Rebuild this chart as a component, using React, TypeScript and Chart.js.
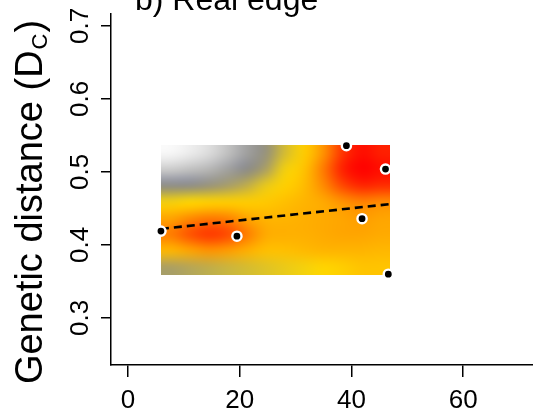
import React, { useEffect, useRef } from 'react';
import { Chart, registerables } from 'chart.js';
Chart.register(...registerables);

const TITLE = 'b) Real edge';
const Y_LABEL_MAIN = 'Genetic distance (D';
const Y_LABEL_SUB = 'C';
const Y_LABEL_END = ')';
const X_TICKS = [0, 20, 40, 60];
const Y_TICKS = [0.3, 0.4, 0.5, 0.6, 0.7];
const X_RANGE = [-3.04, 72.5];
const Y_RANGE = [0.2356, 0.7164];
const POINT_X = [5.9, 19.5, 39.1, 46.1, 41.9, 46.6];
const POINT_Y = [0.419, 0.412, 0.536, 0.504, 0.436, 0.36];
const TREND_X = [5.9, 46.9];
const TREND_Y = [0.422, 0.456];
const HEAT_X = [5.9, 46.9];
const HEAT_Y = [0.537, 0.359];
// rows top -> bottom, columns left -> right
const HEAT_ROW_0 = [0.0, 0.02, 0.05, 0.1, 0.16, 0.22, 0.34, 0.46, 0.66, 0.88, 0.97, 0.93];
const HEAT_ROW_1 = [0.08, 0.1, 0.12, 0.16, 0.2, 0.26, 0.4, 0.5, 0.72, 0.93, 1.0, 0.97];
const HEAT_ROW_2 = [0.2, 0.2, 0.22, 0.25, 0.3, 0.38, 0.45, 0.53, 0.68, 0.84, 0.92, 0.9];
const HEAT_ROW_3 = [0.4, 0.42, 0.44, 0.45, 0.46, 0.48, 0.52, 0.56, 0.6, 0.66, 0.7, 0.68];
const HEAT_ROW_4 = [0.62, 0.68, 0.72, 0.7, 0.62, 0.56, 0.56, 0.58, 0.6, 0.62, 0.64, 0.62];
const HEAT_ROW_5 = [0.72, 0.82, 0.88, 0.84, 0.72, 0.6, 0.58, 0.58, 0.6, 0.62, 0.62, 0.6];
const HEAT_ROW_6 = [0.55, 0.62, 0.66, 0.64, 0.58, 0.52, 0.52, 0.54, 0.56, 0.56, 0.56, 0.55];
const HEAT_ROW_7 = [0.26, 0.28, 0.3, 0.32, 0.34, 0.36, 0.38, 0.4, 0.43, 0.46, 0.5, 0.5];
const HEAT_ROWS = [HEAT_ROW_0, HEAT_ROW_1, HEAT_ROW_2, HEAT_ROW_3, HEAT_ROW_4, HEAT_ROW_5, HEAT_ROW_6, HEAT_ROW_7];
const COLOR_STOPS: [number, number[]][] = [
  [0, [248, 248, 248]],
  [0.2, [138, 138, 138]],
  [0.42, [255, 216, 0]],
  [0.62, [255, 165, 0]],
  [0.82, [255, 80, 0]],
  [1, [255, 0, 0]],
];

const FONT = '"Liberation Sans", Arial, sans-serif';

function colorFor(v: number): number[] {
  for (let i = 1; i < COLOR_STOPS.length; i++) {
    const [p1, c1] = COLOR_STOPS[i];
    const [p0, c0] = COLOR_STOPS[i - 1];
    if (v <= p1) {
      const t = (v - p0) / (p1 - p0);
      return c0.map((c, k) => Math.round(c + (c1[k] - c) * t));
    }
  }
  return COLOR_STOPS[COLOR_STOPS.length - 1][1];
}

const heatmapPlugin = {
  id: 'heatmap',
  beforeDatasetsDraw(chart: any) {
    const ctx = chart.ctx as CanvasRenderingContext2D;
    const xs = chart.scales.x;
    const ys = chart.scales.y;
    const rows = HEAT_ROWS.length;
    const cols = HEAT_ROWS[0].length;
    const off = document.createElement('canvas');
    off.width = cols + 2;
    off.height = rows + 2;
    const octx = off.getContext('2d')!;
    const img = octx.createImageData(cols + 2, rows + 2);
    for (let r = 0; r < rows + 2; r++) {
      for (let c = 0; c < cols + 2; c++) {
        const rr = Math.min(rows - 1, Math.max(0, r - 1));
        const cc = Math.min(cols - 1, Math.max(0, c - 1));
        const col = colorFor(HEAT_ROWS[rr][cc]);
        const idx = (r * (cols + 2) + c) * 4;
        img.data[idx] = col[0];
        img.data[idx + 1] = col[1];
        img.data[idx + 2] = col[2];
        img.data[idx + 3] = 255;
      }
    }
    octx.putImageData(img, 0, 0);
    const x0 = xs.getPixelForValue(HEAT_X[0]);
    const x1 = xs.getPixelForValue(HEAT_X[1]);
    const y0 = ys.getPixelForValue(HEAT_Y[0]);
    const y1 = ys.getPixelForValue(HEAT_Y[1]);
    ctx.save();
    ctx.beginPath();
    ctx.rect(x0, y0, x1 - x0, y1 - y0);
    ctx.clip();
    ctx.imageSmoothingEnabled = true;
    (ctx as any).imageSmoothingQuality = 'high';
    ctx.drawImage(off, 1, 1, cols, rows, x0, y0, x1 - x0, y1 - y0);
    ctx.restore();
  },
};

const textPlugin = {
  id: 'texts',
  afterDraw(chart: any) {
    const ctx = chart.ctx as CanvasRenderingContext2D;
    const ys = chart.scales.y;
    ctx.save();
    ctx.fillStyle = '#000';
    // title (partly cut by top edge)
    ctx.font = `32px ${FONT}`;
    ctx.textAlign = 'left';
    ctx.textBaseline = 'alphabetic';
    ctx.fillText(TITLE, 135, 10);
    // y tick labels, rotated
    ctx.font = `26px ${FONT}`;
    for (const v of Y_TICKS) {
      const py = ys.getPixelForValue(v);
      ctx.save();
      ctx.translate(88, py);
      ctx.rotate(-Math.PI / 2);
      ctx.textAlign = 'center';
      ctx.textBaseline = 'alphabetic';
      ctx.fillText(v.toFixed(1), 0, 0);
      ctx.restore();
    }
    // y axis title with subscript
    ctx.save();
    const bigFont = `38px ${FONT}`;
    const smallFont = `22px ${FONT}`;
    ctx.font = bigFont;
    const wMain = ctx.measureText(Y_LABEL_MAIN).width;
    const wEnd = ctx.measureText(Y_LABEL_END).width;
    ctx.font = smallFont;
    const wSub = ctx.measureText(Y_LABEL_SUB).width;
    const total = wMain + wSub + wEnd + 2;
    ctx.translate(42, 202);
    ctx.rotate(-Math.PI / 2);
    ctx.textBaseline = 'alphabetic';
    ctx.textAlign = 'left';
    let cx = -total / 2;
    ctx.font = bigFont;
    ctx.fillText(Y_LABEL_MAIN, cx, 0);
    cx += wMain + 1;
    ctx.font = smallFont;
    ctx.fillText(Y_LABEL_SUB, cx, 5);
    cx += wSub + 1;
    ctx.font = bigFont;
    ctx.fillText(Y_LABEL_END, cx, 0);
    ctx.restore();
    ctx.restore();
  },
};

export default function App() {
  const ref = useRef<HTMLCanvasElement>(null);
  useEffect(() => {
    document.body.style.margin = '0';
    const canvas = ref.current!;
    const chart = new Chart(canvas, {
      type: 'scatter',
      data: {
        datasets: [
          {
            type: 'scatter',
            data: POINT_X.map((x, i) => ({ x, y: POINT_Y[i] })),
            backgroundColor: '#000',
            borderColor: '#fff',
            borderWidth: 2.4,
            pointRadius: 4.6,
            order: 0,
          },
          {
            type: 'line',
            data: TREND_X.map((x, i) => ({ x, y: TREND_Y[i] })),
            borderColor: '#000',
            borderWidth: 2.6,
            borderDash: [8, 5],
            pointRadius: 0,
            fill: false,
            order: 1,
          } as any,
        ],
      },
      options: {
        animation: false,
        responsive: false,
        layout: { autoPadding: false, padding: { top: 14, left: 0, right: 0, bottom: 0 } },
        plugins: { legend: { display: false }, tooltip: { enabled: false } },
        scales: {
          x: {
            type: 'linear',
            min: X_RANGE[0],
            max: X_RANGE[1],
            afterBuildTicks: (s: any) => {
              s.ticks = X_TICKS.map((v) => ({ value: v }));
            },
            afterFit: (s: any) => {
              s.height = 45;
            },
            border: { color: '#000', width: 1.5 },
            grid: { drawOnChartArea: false, drawTicks: true, tickLength: 12, color: '#000', lineWidth: 1.5 },
            ticks: {
              color: '#000',
              font: { family: FONT, size: 26 },
              padding: 8,
              maxRotation: 0,
              minRotation: 0,
              callback: (v: any) => String(v),
            },
          },
          y: {
            type: 'linear',
            min: Y_RANGE[0],
            max: Y_RANGE[1],
            afterBuildTicks: (s: any) => {
              s.ticks = Y_TICKS.map((v) => ({ value: v }));
            },
            afterFit: (s: any) => {
              s.width = 111;
            },
            border: { color: '#000', width: 1.5 },
            grid: { drawOnChartArea: false, drawTicks: true, tickLength: 10, color: '#000', lineWidth: 1.5 },
            ticks: { display: false },
          },
        },
      },
      plugins: [heatmapPlugin, textPlugin],
    } as any);
    return () => chart.destroy();
  }, []);
  return <canvas ref={ref} width={533} height={410} style={{ display: 'block' }} />;
}
